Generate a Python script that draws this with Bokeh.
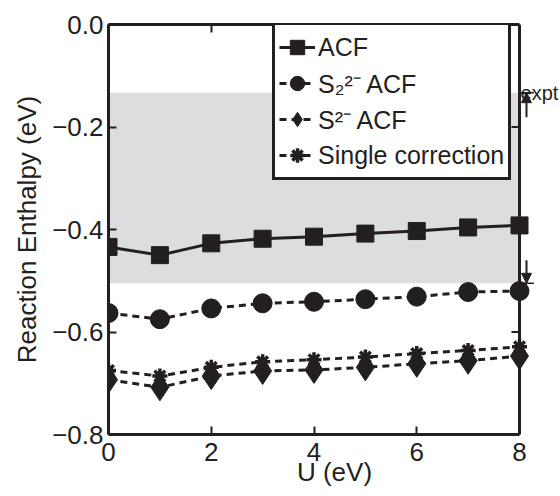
from bokeh.plotting import figure
from bokeh.models import (Range1d, LinearAxis, FixedTicker, BoxAnnotation, Legend, LegendItem,
                          Label, Arrow, NormalHead, ColumnDataSource, Span)
from bokeh.embed import file_html
from bokeh.resources import INLINE

# ---- data ----
U = [0, 1, 2, 3, 4, 5, 6, 7, 8]
acf = [-0.434, -0.450, -0.427, -0.418, -0.414, -0.408, -0.403, -0.396, -0.392]
s2_acf = [-0.563, -0.575, -0.554, -0.544, -0.541, -0.536, -0.531, -0.522, -0.520]
s_acf = [-0.693, -0.708, -0.686, -0.676, -0.674, -0.669, -0.662, -0.656, -0.647]
single = [-0.675, -0.686, -0.669, -0.658, -0.654, -0.649, -0.642, -0.636, -0.629]
expt_low = -0.505
expt_high = -0.133
x_ticks = [0, 2, 4, 6, 8]
y_ticks = [-0.8, -0.6, -0.4, -0.2, 0.0]
y_tick_labels = ["\u22120.8", "\u22120.6", "\u22120.4", "\u22120.2", "0.0"]

INK = "#231f20"
FONT = "Liberation Sans"
FS = "26px"

X_MIN, X_MAX = U[0], U[-1]
EXTRA = 0.798  # room to the right of the axes box for the "expt" marker

p = figure(width=560, height=496, x_range=Range1d(X_MIN, X_MAX + EXTRA), y_range=Range1d(-0.8, 0.0),
           output_backend="svg", toolbar_location=None,
           min_border_left=108, min_border_right=0, min_border_top=24, min_border_bottom=62)
p.background_fill_color = "white"
p.border_fill_color = "white"
p.xgrid.visible = False
p.ygrid.visible = False
p.outline_line_color = None

# shaded experimental band
band = BoxAnnotation(left=X_MIN, right=X_MAX, bottom=expt_low, top=expt_high,
                     fill_color="#dcdddf", fill_alpha=1.0, line_color=None, level="underlay")
p.add_layout(band)

def style_axis(ax, labels=True):
    ax.axis_line_color = INK
    ax.axis_line_width = 3
    ax.major_tick_in = 8
    ax.major_tick_out = 0
    ax.minor_tick_line_color = None
    ax.major_tick_line_color = INK
    ax.major_tick_line_width = 2
    ax.major_label_text_font = FONT
    ax.major_label_text_color = INK
    ax.axis_label_text_font = FONT
    ax.axis_label_text_color = INK
    ax.axis_label_text_font_style = "normal"
    if labels:
        ax.major_label_text_font_size = FS
        ax.axis_label_text_font_size = FS
    else:
        ax.major_label_text_font_size = "0px"
        ax.major_label_text_color = None

xa = p.xaxis[0]
ya = p.yaxis[0]
style_axis(xa)
style_axis(ya)
xa.bounds = (X_MIN, X_MAX)
xa.ticker = FixedTicker(ticks=x_ticks)
ya.ticker = FixedTicker(ticks=y_ticks)
ya.major_label_overrides = {t: l for t, l in zip(y_ticks, y_tick_labels)}
xa.axis_label = "U (eV)"
ya.axis_label = "Reaction Enthalpy (eV)"
xa.major_label_standoff = 8
xa.axis_label_standoff = -7
ya.major_label_standoff = 5
ya.axis_label_standoff = 7

top_ax = LinearAxis(ticker=FixedTicker(ticks=x_ticks), bounds=(X_MIN, X_MAX))
style_axis(top_ax, labels=False)
p.add_layout(top_ax, "above")

# right edge of the axes box with inward ticks
p.add_layout(Span(location=X_MAX, dimension="height", line_color=INK, line_width=3))
tick_len = 8 / (411 / 8)  # 8 px in data units
p.segment(x0=[X_MAX - tick_len] * len(y_ticks), x1=[X_MAX] * len(y_ticks), y0=y_ticks, y1=y_ticks,
          line_color=INK, line_width=2)

src = ColumnDataSource(dict(U=U, acf=acf, s2=s2_acf, s=s_acf, single=single))
DASH = "7 5"

l1 = p.line("U", "acf", source=src, line_color=INK, line_width=3)
m1 = p.scatter("U", "acf", source=src, marker="square", size=17, fill_color=INK, line_color=INK)

l2 = p.line("U", "s2", source=src, line_color=INK, line_width=3, line_dash=DASH)
m2 = p.scatter("U", "s2", source=src, marker="circle", size=19, fill_color=INK, line_color=INK)

l4 = p.line("U", "single", source=src, line_color=INK, line_width=3, line_dash=DASH)
m4 = p.scatter("U", "single", source=src, marker="asterisk", size=15, line_color=INK, line_width=3.5)

l3 = p.line("U", "s", source=src, line_color=INK, line_width=3, line_dash=DASH)
m3 = p.scatter("U", "s", source=src, marker="diamond", size=27, fill_color=INK, line_color=INK)

legend = Legend(items=[
    LegendItem(label="ACF", renderers=[l1, m1]),
    LegendItem(label="S\u2082\u00b2\u207b ACF", renderers=[l2, m2]),
    LegendItem(label="S\u00b2\u207b ACF", renderers=[l3, m3]),
    LegendItem(label="Single correction", renderers=[l4, m4]),
], location=(164, 254))
legend.margin = 0
legend.padding = 4
legend.spacing = 0
legend.glyph_width = 36
legend.glyph_height = 36
legend.label_height = 36
legend.label_standoff = 3
legend.label_text_font = FONT
legend.label_text_font_size = "25px"
legend.label_text_color = INK
legend.border_line_color = INK
legend.border_line_alpha = 1.0
legend.border_line_width = 3
legend.background_fill_color = "white"
legend.background_fill_alpha = 1.0
p.add_layout(legend)

# experimental range markers at the right edge
arrow_x = X_MAX + 0.136
p.add_layout(Arrow(end=NormalHead(size=10, fill_color=INK, line_color=INK, line_width=1), line_color=INK,
                   line_width=2, x_start=arrow_x, y_start=expt_high - 0.048, x_end=arrow_x, y_end=expt_high))
p.add_layout(Arrow(end=NormalHead(size=10, fill_color=INK, line_color=INK, line_width=1), line_color=INK,
                   line_width=2, x_start=arrow_x, y_start=expt_low + 0.045, x_end=arrow_x, y_end=expt_low))
p.segment(x0=[X_MAX, X_MAX], x1=[X_MAX + 0.28, X_MAX + 0.28], y0=[expt_high, expt_low], y1=[expt_high, expt_low],
          line_color=INK, line_width=1.5)
p.add_layout(Label(x=X_MAX, y=expt_high, text="expt", text_font=FONT, text_font_size="20px",
                   text_color=INK, text_baseline="alphabetic", text_align="left", x_offset=1, y_offset=0))

open("out.html", "w").write(file_html(p, INLINE))
